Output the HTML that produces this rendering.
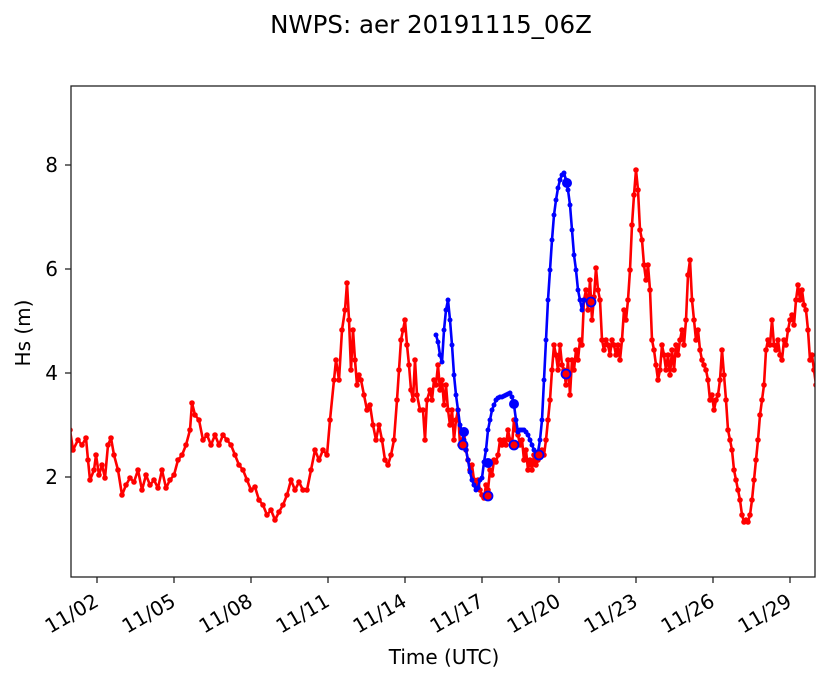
<!DOCTYPE html>
<html><head><meta charset="utf-8"><style>
body{margin:0;background:#fff;}
svg{display:block;font-family:"DejaVu Sans","Liberation Sans",sans-serif;}
</style></head><body>
<svg width="833" height="681" viewBox="0 0 833 681" xmlns="http://www.w3.org/2000/svg">
<defs>
<marker id="mr" markerWidth="8" markerHeight="8" refX="4" refY="4" markerUnits="userSpaceOnUse"><circle cx="4" cy="4" r="2.8" fill="#f00"/></marker>
<marker id="mb" markerWidth="8" markerHeight="8" refX="4" refY="4" markerUnits="userSpaceOnUse"><circle cx="4" cy="4" r="2.5" fill="#00f"/></marker>
<clipPath id="c"><rect x="71" y="86" width="744" height="491"/></clipPath>
</defs>
<text x="431" y="33" font-size="24.5" text-anchor="middle">NWPS: aer 20191115_06Z</text>
<g clip-path="url(#c)">
<polyline fill="none" stroke="#f00" stroke-width="2.6" stroke-linejoin="round" marker-start="url(#mr)" marker-mid="url(#mr)" marker-end="url(#mr)" points="70,430 73,450 78,440 82,445 86,438 88,460 90,480 94,470 96,455 99,475 102,465 105,478 108,445 111,438 114,455 118,470 122,495 126,485 130,478 134,482 138,470 142,490 146,475 150,485 154,480 158,488 162,470 166,488 170,480 174,475 178,460 182,455 186,445 190,430 192,403 195,415 199,420 203,440 207,435 211,445 215,435 219,445 223,435 227,440 231,445 235,455 239,465 243,470 247,480 251,490 255,487 259,500 263,505 267,515 271,510 275,520 279,512 283,505 287,495 291,480 295,490 299,482 303,490 307,490 311,470 315,450 319,460 323,450 327,455 330,420 334,380 336,360 339,380 342,330 345,310 347,283 349,320 351,370 353,330 355,360 357,385 359,375 361,380 364,395 367,410 370,405 373,425 376,440 379,425 382,440 385,460 388,465 391,455 394,440 397,400 399,370 401,340 403,330 405,320 407,345 409,365 411,390 413,400 415,360 417,395 420,410 423,410 425,440 427,400 430,390 432,400 434,380 436,385 438,365 440,390 442,380 444,405 446,385 448,410 450,425 452,410 454,440 456,420 458,410 460,445 462,440 464,432 466,450 468,460 470,470 472,465 474,480 476,485 478,480 480,490 482,495 484,498 486,485 488,490 490,470 492,475 494,460 496,462 498,455 500,440 502,445 504,440 506,445 508,430 510,440 512,445 514,420 516,430 518,435 520,445 522,440 524,460 526,450 528,470 530,460 532,470 534,455 536,465 538,460 540,455 542,450 544,455 546,440 548,420 550,400 552,370 554,345 556,355 558,370 560,345 562,365 564,370 566,385 568,360 570,395 572,360 574,370 576,350 578,360 580,340 582,345 584,300 586,290 588,310 590,280 592,320 594,297 596,268 598,290 600,300 602,340 604,350 606,340 608,345 610,355 612,340 614,345 616,355 618,345 620,360 622,340 624,310 626,320 628,300 630,270 632,225 634,195 636,170 638,190 640,230 642,240 644,265 646,280 648,265 650,290 652,340 654,350 656,365 658,380 660,370 662,345 664,355 666,370 668,355 670,375 672,350 674,370 676,345 678,355 680,340 682,330 684,345 686,320 688,275 690,260 692,300 694,320 696,340 698,330 700,350 702,360 704,365 706,370 708,380 710,400 712,395 714,410 716,400 718,395 720,380 722,350 724,375 726,400 728,430 730,440 732,450 734,470 736,480 738,490 740,500 742,515 744,522 746,520 748,522 750,515 752,500 754,480 756,460 758,440 760,415 762,400 764,385 766,350 768,340 770,345 772,320 774,345 776,350 778,340 780,355 782,360 784,340 786,345 788,330 790,320 792,315 794,325 796,300 798,285 800,300 802,290 804,305 806,310 808,330 810,360 812,355 814,370 816,385"/>
<polyline fill="none" stroke="#00f" stroke-width="2.6" stroke-linejoin="round" marker-start="url(#mb)" marker-mid="url(#mb)" marker-end="url(#mb)" points="436,335 438,342 440,355 442,362 444,330 446,310 448,300 450,320 452,345 454,375 456,395 458,410 460,425 462,432 464,440 466,450 468,460 470,472 472,480 474,485 476,490 478,488 480,480 482,478 484,462 486,450 488,430 490,420 492,410 494,405 496,400 498,398 500,397 502,397 504,396 506,395 508,394 510,393 512,397 514,405 516,420 518,432 520,430 522,430 524,430 526,432 528,435 530,440 532,445 534,450 536,455 538,452 540,440 542,420 544,380 546,340 548,300 550,270 552,240 554,215 556,200 558,188 560,180 562,175 564,173 566,180 568,190 570,205 572,230 574,255 576,270 578,290 580,300 582,310 584,300"/>
<g fill="#00f"><circle cx="464" cy="432" r="5"/><circle cx="488" cy="463" r="5"/><circle cx="514" cy="404" r="5"/><circle cx="567" cy="183" r="5"/></g>
<g fill="#f00" stroke="#00f" stroke-width="1.8"><circle cx="463" cy="445" r="4.5"/><circle cx="488" cy="496" r="4.5"/><circle cx="514" cy="445" r="4.5"/><circle cx="539" cy="455" r="4.5"/><circle cx="566" cy="374" r="4.5"/><circle cx="591" cy="302" r="4.5"/></g>
</g>
<rect x="71" y="86" width="744" height="491" fill="none" stroke="#222" stroke-width="1.3"/>
<g stroke="#222" stroke-width="1.3">
<line x1="65" y1="165" x2="71" y2="165"/><line x1="65" y1="269" x2="71" y2="269"/><line x1="65" y1="373" x2="71" y2="373"/><line x1="65" y1="477" x2="71" y2="477"/>
<line x1="97" y1="577" x2="97" y2="583"/><line x1="174" y1="577" x2="174" y2="583"/><line x1="251" y1="577" x2="251" y2="583"/><line x1="328" y1="577" x2="328" y2="583"/><line x1="405" y1="577" x2="405" y2="583"/><line x1="482" y1="577" x2="482" y2="583"/><line x1="559" y1="577" x2="559" y2="583"/><line x1="636" y1="577" x2="636" y2="583"/><line x1="713" y1="577" x2="713" y2="583"/><line x1="790" y1="577" x2="790" y2="583"/>
</g>
<g font-size="20" text-anchor="end">
<text x="58" y="172">8</text><text x="58" y="276">6</text><text x="58" y="380">4</text><text x="58" y="484">2</text>
</g>
<g font-size="20" text-anchor="end">
<text transform="translate(100,605) rotate(-30)">11/02</text>
<text transform="translate(177,605) rotate(-30)">11/05</text>
<text transform="translate(254,605) rotate(-30)">11/08</text>
<text transform="translate(331,605) rotate(-30)">11/11</text>
<text transform="translate(408,605) rotate(-30)">11/14</text>
<text transform="translate(485,605) rotate(-30)">11/17</text>
<text transform="translate(562,605) rotate(-30)">11/20</text>
<text transform="translate(639,605) rotate(-30)">11/23</text>
<text transform="translate(716,605) rotate(-30)">11/26</text>
<text transform="translate(793,605) rotate(-30)">11/29</text>
</g>
<text x="444" y="664" font-size="20" text-anchor="middle">Time (UTC)</text>
<text transform="translate(30,333) rotate(-90)" font-size="20" text-anchor="middle">Hs (m)</text>
</svg>
</body></html>
